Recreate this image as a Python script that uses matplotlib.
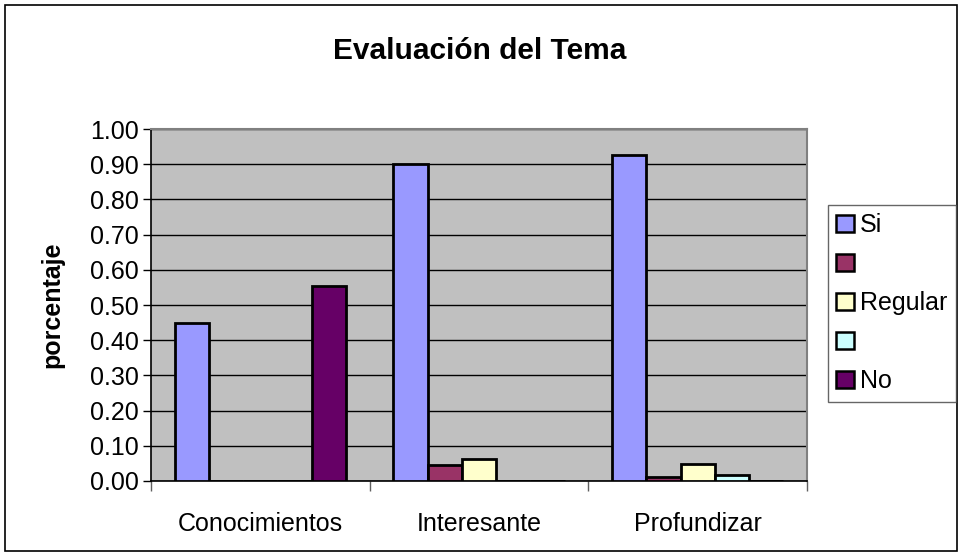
import matplotlib.pyplot as plt
from matplotlib.patches import Rectangle, Patch
import numpy as np

plt.rcParams['font.family'] = ['Liberation Sans', 'DejaVu Sans']

categories = ['Conocimientos', 'Interesante', 'Profundizar']
series_names = ['Si', '', 'Regular', '', 'No']
series_colors = ['#9999FF', '#993366', '#FFFFCC', '#CCFFFF', '#660066']
values = [
    [0.45, 0.90, 0.925],   # Si
    [0.0, 0.045, 0.012],   # (sin nombre)
    [0.0, 0.062, 0.047],   # Regular
    [0.0, 0.0, 0.016],     # (sin nombre)
    [0.553, 0.0, 0.0],     # No
]
yticks = np.arange(0, 1.01, 0.1)

fig = plt.figure(figsize=(9.61, 5.55), dpi=100)
ax = fig.add_axes([151 / 961, 1 - 481 / 555, 656 / 961, 352 / 555])
ax.set_facecolor('#C0C0C0')

x = np.arange(len(categories))
w = 0.157
handles = []
for i, (name, col, vals) in enumerate(zip(series_names, series_colors, values)):
    ax.bar(x + (i - 2) * w, vals, w, color=col, edgecolor='black',
           linewidth=2.0, zorder=3)
    handles.append(Patch(facecolor=col, edgecolor='black', linewidth=1.8))

ax.set_xlim(-0.5, 2.5)
ax.set_ylim(0, 1.0)
ax.set_yticks(yticks)
ax.set_yticklabels([f'{v:.2f}' for v in yticks], fontsize=18)
ax.yaxis.grid(True, color='black', linewidth=1.0, zorder=1)
ax.set_axisbelow(True)
ax.tick_params(axis='y', direction='out', length=6, width=1, pad=3)

ax.set_xticks(x)
ax.set_xticklabels(categories, fontsize=18)
ax.set_xticks([-0.5, 0.5, 1.5, 2.5], minor=True)
ax.tick_params(axis='x', which='major', length=0, pad=22)
ax.tick_params(axis='x', which='minor', direction='out', length=7, width=1,
               color='#606060')

for s in ['top', 'right']:
    ax.spines[s].set_color('#808080')
    ax.spines[s].set_linewidth(1.5)
for s in ['left', 'bottom']:
    ax.spines[s].set_color('black')
    ax.spines[s].set_linewidth(1.2)

ax.set_ylabel('porcentaje', fontsize=18, fontweight='bold', labelpad=18)
fig.text(480 / 961, 1 - 51 / 555, 'Evaluación del Tema', fontsize=21.5,
         fontweight='bold', ha='center', va='center')

leg = fig.legend(handles, series_names, loc='upper left',
                 bbox_to_anchor=(828 / 961, 1 - 205 / 555), fontsize=18,
                 frameon=True, fancybox=False, edgecolor='#404040',
                 handlelength=0.7, handleheight=0.7, handletextpad=0.25,
                 labelspacing=0.6, borderpad=0.33, borderaxespad=0)
leg.get_frame().set_linewidth(1)

fig.patches.append(Rectangle((5 / 961, 4 / 555), 952 / 961, 546 / 555,
                             transform=fig.transFigure, fill=False,
                             edgecolor='black', linewidth=1.2))

fig.savefig('out.png', dpi=100)
